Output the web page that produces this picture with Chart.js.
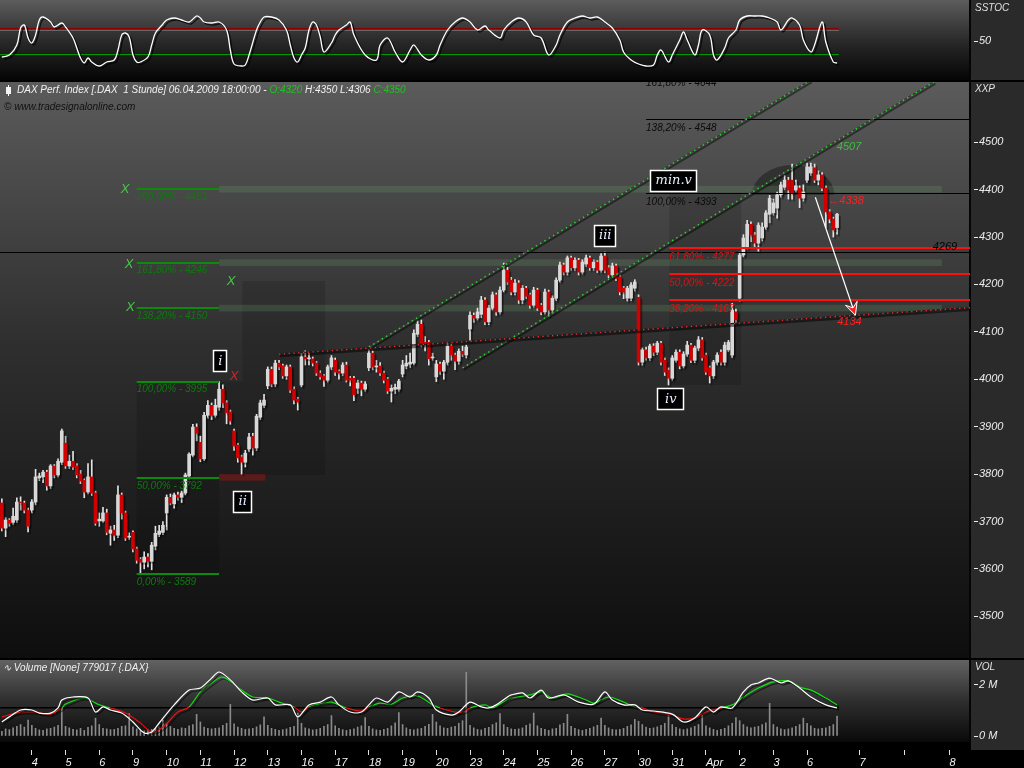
<!DOCTYPE html>
<html>
<head>
<meta charset="utf-8">
<script src="https://cdn.jsdelivr.net/npm/chart.js"></script>
<style>
html,body{margin:0;padding:0;background:#000;}
body{width:1024px;height:768px;position:relative;overflow:hidden;font-family:"Liberation Sans",Arial,sans-serif;}
canvas{position:absolute;left:0;display:block;}
.t{position:absolute;font-style:italic;font-size:10px;line-height:12px;white-space:nowrap;color:#f0f0f0;}
</style>
</head>
<body>
<canvas id="cS" width="1024" height="80" style="top:0"></canvas>
<canvas id="cM" width="1024" height="576" style="top:82px"></canvas>
<canvas id="cV" width="1024" height="108" style="top:660px"></canvas>
<div class="t" style="left:975px;top:2px;color:#e0e0e0">SSTOC</div>
<div class="t" style="left:975px;top:83px;color:#e0e0e0">XXP</div>
<div class="t" style="left:975px;top:661px;color:#e0e0e0">VOL</div>
<div style="position:absolute;left:8px;top:85px;width:1px;height:11px;background:#fff"></div>
<div style="position:absolute;left:6px;top:87px;width:5px;height:7px;background:#f4f4f4"></div>
<div class="t" style="left:17px;top:84px">DAX Perf. Index [.DAX&nbsp; 1 Stunde] 06.04.2009 18:00:00 - <span style="color:#22c022">O:4320</span> H:4350 L:4306 <span style="color:#22c022">C:4350</span></div>
<div class="t" style="left:4px;top:101px;color:#111">© www.tradesignalonline.com</div>
<div class="t" style="left:3px;top:662px">∿ Volume [None] 779017 {.DAX}</div>
<script>
// ---------- DATA (hourly bars, 3 Mar 2009 .. 6 Apr 2009) ----------
const open = [
3739,3686,3703,3698,3703,3741,3739,3724,3724,3741,
3792,3794,3804,3775,3817,3798,3825,3865,3817,3827,
3817,3800,3787,3762,3794,3760,3701,3701,3718,3675,
3682,3671,3756,3718,3667,3677,3642,3620,3614,3625,
3616,3648,3673,3677,3718,3751,3737,3756,3751,3760,
3796,3840,3899,3867,3832,3924,3945,3924,3941,3979,
3950,3931,3891,3861,3836,3825,3853,3880,3855,3920,
3945,3986,4021,3990,4034,4028,4007,4026,3979,3958,
3988,4047,4043,4043,4034,4013,4007,3998,4026,4040,
4017,4013,4030,4002,4002,3981,3992,3979,4024,4055,
4026,4028,4013,4000,3975,3979,3979,4011,4028,4032,
4034,4095,4116,4078,4078,4045,4005,4032,4017,4036,
4070,4051,4038,4059,4051,4106,4135,4129,4137,4167,
4121,4150,4178,4142,4188,4230,4209,4184,4203,4167,
4192,4178,4156,4188,4156,4142,4184,4146,4171,4209,
4241,4226,4256,4235,4251,4226,4243,4256,4235,4247,
4230,4260,4235,4220,4239,4216,4192,4171,4171,4192,
4173,4036,4062,4045,4070,4057,4076,4040,4019,4002,
4040,4057,4028,4053,4072,4040,4066,4083,4051,4024,
4007,4036,4057,4036,4062,4051,4142,4171,4262,4279,
4327,4304,4287,4298,4321,4348,4351,4361,4389,4405,
4420,4420,4399,4403,4382,4420,4435,4446,4420,4431,
4403,4353,4338,4320];
const high = [
3748,3708,3706,3728,3750,3752,3743,3728,3746,3810,
3802,3808,3808,3820,3820,3832,3895,3880,3840,3848,
3822,3808,3790,3822,3830,3764,3718,3730,3726,3690,
3692,3775,3760,3722,3676,3680,3646,3624,3636,3632,
3656,3690,3692,3700,3756,3758,3760,3762,3764,3802,
3845,3905,3906,3880,3930,3955,3950,3958,3995,3988,
3955,3935,3895,3865,3840,3850,3886,3886,3926,3956,
3968,4026,4026,4040,4040,4032,4030,4030,3984,3962,
4055,4060,4055,4047,4038,4018,4010,4030,4050,4045,
4020,4035,4036,4006,4006,3998,3996,3995,4062,4060,
4040,4035,4017,4004,3988,3990,4000,4040,4050,4055,
4104,4123,4125,4090,4082,4055,4040,4036,4040,4076,
4074,4055,4064,4070,4072,4142,4140,4150,4175,4172,
4156,4184,4182,4195,4245,4236,4215,4210,4208,4198,
4196,4182,4194,4192,4160,4190,4188,4176,4214,4247,
4245,4260,4260,4256,4255,4252,4262,4260,4252,4250,
4265,4268,4240,4245,4243,4220,4196,4196,4204,4210,
4178,4066,4068,4074,4075,4080,4080,4045,4024,4050,
4062,4062,4058,4080,4076,4070,4090,4088,4055,4028,
4040,4056,4062,4078,4082,4160,4148,4268,4305,4335,
4332,4310,4330,4330,4356,4388,4380,4395,4416,4430,
4426,4454,4420,4408,4410,4456,4456,4454,4440,4436,
4408,4358,4342,4350];
const low = [
3680,3668,3690,3694,3698,3724,3718,3678,3718,3735,
3786,3782,3766,3770,3792,3794,3820,3812,3812,3810,
3792,3780,3750,3758,3755,3692,3690,3698,3672,3650,
3660,3666,3705,3660,3662,3636,3612,3590,3600,3604,
3598,3640,3668,3672,3682,3735,3728,3745,3740,3756,
3790,3836,3870,3826,3828,3918,3915,3920,3935,3940,
3906,3905,3850,3825,3800,3815,3848,3840,3850,3915,
3940,3980,3984,3985,4020,4002,4000,3972,3948,3935,
3984,4030,4030,4028,4008,4000,3985,3994,4020,4008,
4000,4008,3994,3986,3955,3970,3965,3975,4018,4020,
4015,4008,3992,3970,3952,3970,3975,4005,4022,4025,
4030,4090,4068,4060,4030,4040,3995,4010,4000,4030,
4040,4020,4032,4048,4045,4080,4120,4125,4130,4115,
4115,4146,4135,4138,4184,4200,4178,4178,4160,4160,
4170,4150,4152,4145,4136,4138,4133,4140,4166,4205,
4220,4220,4230,4230,4220,4222,4238,4230,4230,4225,
4226,4225,4214,4215,4208,4178,4170,4165,4166,4186,
4030,4030,4040,4040,4050,4052,4030,4008,3988,3998,
4036,4022,4024,4048,4035,4035,4060,4040,4010,3992,
4002,4030,4030,4030,4058,4046,4120,4165,4258,4275,
4290,4280,4270,4292,4316,4330,4346,4340,4384,4400,
4380,4380,4395,4362,4376,4415,4430,4415,4410,4398,
4320,4330,4300,4306];
const close = [
3686,3703,3696,3711,3741,3739,3724,3690,3741,3794,
3796,3804,3775,3817,3798,3827,3891,3817,3827,3815,
3798,3785,3762,3794,3760,3696,3705,3718,3677,3682,
3671,3756,3718,3665,3669,3642,3618,3614,3625,3616,
3650,3675,3680,3692,3751,3739,3756,3751,3760,3798,
3842,3899,3886,3832,3924,3945,3924,3945,3979,3950,
3929,3912,3859,3834,3825,3844,3878,3855,3922,3950,
3956,4021,3990,4034,4026,4007,4026,3977,3956,3952,
4047,4043,4045,4034,4013,4005,3998,4026,4045,4015,
4013,4030,3998,3998,3967,3992,3979,3990,4055,4026,
4028,4013,3998,3975,3981,3983,3996,4030,4034,4036,
4097,4116,4074,4076,4043,4047,4032,4017,4036,4070,
4051,4038,4059,4053,4068,4135,4129,4142,4167,4121,
4150,4178,4142,4188,4230,4205,4184,4203,4167,4192,
4175,4156,4188,4150,4142,4184,4146,4171,4209,4241,
4226,4256,4235,4251,4226,4247,4256,4235,4247,4230,
4260,4230,4220,4239,4213,4184,4184,4192,4199,4205,
4036,4062,4045,4070,4057,4076,4036,4015,4002,4045,
4057,4028,4053,4072,4040,4066,4083,4045,4015,4007,
4036,4051,4036,4072,4078,4146,4125,4262,4298,4327,
4304,4287,4325,4321,4351,4382,4372,4389,4410,4420,
4399,4393,4408,4382,4395,4448,4448,4420,4431,4403,
4353,4338,4315,4348];
// volume in millions
const volume = [
.18,.28,.25,.32,.38,.45,.35,.62,
.42,.30,.24,.22,.28,.30,.35,.42,1.10,
.38,.32,.26,.24,.30,.22,.34,.40,.70,
.45,.30,.28,.25,.26,.30,.38,.40,.88,
.36,.28,.22,.20,.24,.26,.30,.35,.62,
.50,.38,.30,.26,.32,.30,.40,.45,.85,
.55,.35,.30,.28,.30,.32,.42,.50,1.24,
.48,.35,.30,.26,.28,.30,.36,.44,.75,
.42,.30,.26,.22,.25,.28,.34,.38,.90,
.50,.32,.28,.24,.26,.30,.38,.45,.80,
.40,.30,.25,.22,.25,.28,.35,.40,.72,
.38,.28,.24,.22,.26,.30,.40,.52,.92,
.45,.32,.26,.24,.28,.30,.38,.46,.85,
.55,.40,.32,.30,.35,.38,.50,.60,2.50,
.42,.32,.26,.24,.30,.34,.45,.52,.88,
.45,.34,.28,.26,.28,.32,.42,.48,.90,
.40,.30,.26,.22,.28,.30,.44,.50,.85,
.38,.30,.25,.22,.26,.30,.36,.42,.70,
.42,.32,.26,.24,.26,.30,.38,.44,.65,
.58,.45,.35,.30,.32,.36,.42,.50,.82,
.45,.34,.28,.25,.28,.32,.38,.45,.80,
.40,.32,.26,.22,.26,.30,.40,.50,.72,
.60,.45,.36,.32,.35,.38,.45,.52,1.28,
.45,.35,.28,.25,.28,.32,.38,.45,.70,
.50,.40,.30,.28,.30,.32,.38,.45,.78];
const stochIdx = [0,2,4,5,6,7,8,9,10,11,13,14,16,17,19,20,21,22,23,24,26,28,30,31,32,33,34,35,36,37,39,40,41,43,44,46,48,50,52,53,54,56,58,60,61,62,64,65,66,68,69,70,72,74,76,77,78,79,80,81,82,83,84,85,86,88,89,90,92,93,94,97,100,101,103,105,107,109,110,112,114,116,117,119,121,123,125,127,129,130,133,134,136,138,140,142,144,146,148,149,151,153,155,157,159,161,163,165,166,168,170,172,174,175,176,178,179,181,182,183,185,186,187,189,190,191,193,194,196,197,199,201,203,205,207,208,210,211,213,214,216,217,219,220,222,223];
const stochVal = [18,22,42,76,82,56,46,62,92,98,88,78,86,78,56,36,16,6,16,8,0,8,12,32,62,66,58,22,8,8,18,42,66,84,92,96,92,88,100,96,88,86,88,72,32,4,0,2,22,72,88,98,98,92,72,42,16,8,22,36,72,88,82,58,28,46,62,72,82,88,62,22,12,42,56,28,8,32,42,22,12,22,42,72,88,96,88,72,80,72,56,72,88,96,88,62,56,22,42,62,88,96,100,96,98,88,76,52,28,12,4,0,2,22,32,8,22,52,68,52,22,42,72,62,22,12,36,56,72,92,100,100,100,96,88,72,92,96,82,52,28,42,88,48,8,6];
const volFastIdx = [0,2,5,8,10,13,15,16,19,23,25,27,29,32,35,38,40,42,46,50,53,56,58,61,64,67,71,73,77,79,82,85,88,90,93,96,98,100,103,106,109,111,114,116,120,122,125,128,130,132,135,136,139,141,144,146,150,154,158,161,163,166,169,171,174,179,182,185,188,190,192,195,198,200,202,205,208,210,213,216,220,223];
const volFast = [0.55,0.75,1.02,1.02,0.9,0.9,1.1,1.41,1.53,1.49,0.94,1.14,1.02,0.9,0.55,0.12,0.16,0.51,1.22,1.8,1.88,2.27,2.51,2.2,1.73,1.41,1.49,1.22,1.22,0.75,1.22,1.33,1.53,1.22,0.94,0.94,1.22,1.49,1.33,1.73,1.53,1.73,1.49,1.02,0.82,0.94,1.33,1.14,1.1,1.22,1.53,1.61,1.69,1.49,1.8,1.49,1.61,1.33,1.25,1.73,1.41,1.22,1.22,1.02,0.98,0.86,0.55,0.71,1.14,0.94,1.14,1.1,1.73,2.0,2.08,2.27,2.08,2.16,1.88,1.53,1.22,1.1];
const volSlowIdx = [0,5,9,13,16,17,22,26,29,33,37,40,43,47,50,53,56,59,64,67,71,74,78,80,82,86,88,92,96,98,101,104,107,111,115,117,121,123,125,129,131,133,136,141,144,147,151,156,158,162,166,169,171,174,179,182,185,188,192,195,198,202,206,210,213,216,220,223];
const volSlow = [0.75,0.94,0.94,0.86,1.1,1.25,1.49,1.22,1.1,0.9,0.51,0.16,0.35,0.94,1.14,1.73,2.08,2.31,1.8,1.53,1.49,1.33,1.14,0.94,1.14,1.29,1.33,1.1,0.98,1.14,1.29,1.25,1.49,1.57,1.22,1.1,0.94,0.94,1.1,1.22,1.1,1.25,1.49,1.61,1.73,1.49,1.65,1.41,1.29,1.53,1.33,1.14,1.1,0.94,0.82,0.67,0.71,0.94,1.1,1.22,1.53,1.88,2.12,2.16,1.92,1.8,1.49,1.22];
const volThreshold = 1.14;
const dayTickIdx = [8,17,26,35,44,53,62,71,80,89,98,107,116,125,134,143,152,161,170,179,188,197,206,215,229,241,253];
const dayTickLbl = ['4','5','6','9','10','11','12','13','16','17','18','19','20','23','24','25','26','27','30','31','Apr','2','3','6','7','','8'];
const priceTicks = [3500,3600,3700,3800,3900,4000,4100,4200,4300,4400,4500];
const stochLevels = [75, 25];

// ---------- annotations (bar index / price) ----------
const leftFibRange = [36, 58];
const leftFibLevels = [3995, 3792, 3589];
const leftFibLabels = ['100,00% - 3995', '50,00% - 3792', '0,00% - 3589'];
const extFibLevels = [4401, 4246, 4150];
const extFibLabels = ['200,00% - 4401', '161,80% - 4246', '138,20% - 4150'];
const extBandEnd = 251;
const topFibStart = 172;
const topFibLevels = [4644, 4548, 4393];
const topFibLabels = ['161,80% - 4644', '138,20% - 4548', '100,00% - 4393'];
const redFibStart = 178.2;
const redFibLevels = [4277, 4222, 4167];
const redFibLabels = ['61,80% - 4277', '50,00% - 4222', '38,20% - 4167'];
const resistLevel = 4269;
const shadeBoxes = [[36,58,3995,3589],[64.2,86.3,4207,3798],[58,64.2,3995,3798],[178.2,197.4,4393,3988]];
const redBand = [58, 70.3, 3800, 3786];
const dome = {i:211.3, p:4389, ri:11, rp:63};
const channelUpper = [[98,4068],[216,4631]];
const channelLower = [[123,4024],[249,4628]];
const neckline = [[74,4053],[258.5,4151]];
const arrowLine = [[217.2,4384],[227.9,4135]];
const waveLabels = [{t:'i',i:58.3,p:4038,w:14},{t:'ii',i:64.3,p:3741,w:19},{t:'iii',i:161.1,p:4302,w:22},{t:'iv',i:178.6,p:3958,w:27},{t:'min.v',i:179.4,p:4419,w:47}];
const greenMarks = [[32.9,4401],[34,4243],[34.3,4152],[61.2,4207]];
const redMarks = [[62,4007]];

const N = 259;
const FONT = "'Liberation Sans', Arial, sans-serif";
const tickFont = {family: FONT, size: 11, style: 'italic'};

const shadowPlug = {
  id: 'shadowPlug',
  beforeDatasetDraw(c, a) { const ds = c.data.datasets[a.index]; if (ds.shade) { const x = c.ctx; x.save(); x.shadowColor = ds.shade; x.shadowOffsetX = 2; x.shadowOffsetY = 2; x.shadowBlur = 0; } },
  afterDatasetDraw(c, a) { const ds = c.data.datasets[a.index]; if (ds.shade) c.ctx.restore(); }
};

function paintBg(c, stops) {
  const {ctx, chartArea: a, width: W, height: H} = c;
  ctx.save();
  const g = ctx.createLinearGradient(0, 0, 0, a.bottom);
  stops.forEach(s => g.addColorStop(s[0], s[1]));
  ctx.fillStyle = g; ctx.fillRect(0, 0, a.right, a.bottom);
  ctx.fillStyle = '#2a2a2a'; ctx.fillRect(a.right, 0, W - a.right, H);
  ctx.fillStyle = '#050505'; ctx.fillRect(a.right - 1, 0, 2, H);
  ctx.restore();
}

const stochDeco = {
  id: 'stochDeco',
  beforeDraw(c) { paintBg(c, [[0,'#5c5c5c'],[0.55,'#262626'],[1,'#050505']]); },
  beforeDatasetsDraw(c) {
    const ctx = c.ctx, X = v => c.scales.x.getPixelForValue(v), Y = v => c.scales.y.getPixelForValue(v);
    const x0 = X(-0.5), x1 = X(223.5);
    ctx.save();
    ctx.fillStyle = 'rgba(150,150,150,0.5)'; ctx.fillRect(x0, Math.round(Y(stochLevels[0])) + 2, x1 - x0, 1);
    ctx.fillStyle = '#8a0000'; ctx.fillRect(x0, Math.round(Y(stochLevels[0])), x1 - x0, 1);
    ctx.fillStyle = '#009a00'; ctx.fillRect(x0, Math.round(Y(stochLevels[1])), x1 - x0, 1);
    ctx.restore();
  }
};

const volDeco = {
  id: 'volDeco',
  beforeDraw(c) {
    paintBg(c, [[0,'#626262'],[0.5,'#2e2e2e'],[1,'#0a0a0a']]);
    const {ctx, chartArea: a, width: W, height: H} = c;
    ctx.save(); ctx.fillStyle = '#000'; ctx.fillRect(0, a.bottom, a.right + 1, H - a.bottom);
    ctx.fillRect(a.right, a.bottom + 8, W - a.right, H); ctx.restore();
  },
  beforeDatasetsDraw(c) {
    const ctx = c.ctx, X = v => c.scales.x.getPixelForValue(v), Y = v => c.scales.y.getPixelForValue(v);
    ctx.save(); ctx.fillStyle = '#000';
    ctx.fillRect(X(-0.5), Math.round(Y(volThreshold)), X(223.5) - X(-0.5), 1.5);
    ctx.restore();
  }
};

const mainDeco = {
  id: 'mainDeco',
  beforeDraw(c) { paintBg(c, [[0,'#5b5b5b'],[0.45,'#2f2f2f'],[1,'#0e0e0e']]); },
  beforeDatasetsDraw(c) {
    const ctx = c.ctx, a = c.chartArea, X = v => c.scales.x.getPixelForValue(v), Y = v => c.scales.y.getPixelForValue(v);
    ctx.save(); ctx.beginPath(); ctx.rect(a.left, a.top, a.right - a.left, a.bottom - a.top); ctx.clip();
    ctx.fillStyle = 'rgba(0,0,0,0.13)';
    shadeBoxes.forEach(b => ctx.fillRect(X(b[0]), Y(b[2]), X(b[1]) - X(b[0]), Y(b[3]) - Y(b[2])));
    ctx.fillStyle = 'rgba(110,25,25,0.75)';
    ctx.fillRect(X(redBand[0]), Y(redBand[2]), X(redBand[1]) - X(redBand[0]), Y(redBand[3]) - Y(redBand[2]));
    ctx.fillStyle = 'rgba(18,18,18,0.45)';
    ctx.beginPath();
    ctx.ellipse(X(dome.i), Y(dome.p), X(dome.i + dome.ri) - X(dome.i), Y(dome.p) - Y(dome.p + dome.rp), 0, Math.PI, 2 * Math.PI);
    ctx.closePath(); ctx.fill();
    ctx.fillStyle = 'rgba(110,175,110,0.2)';
    extFibLevels.forEach(p => ctx.fillRect(X(leftFibRange[1]), Y(p + 7), X(extBandEnd) - X(leftFibRange[1]), Y(p - 7) - Y(p + 7)));
    ctx.restore();
  },
  afterDatasetsDraw(c) {
    const ctx = c.ctx, a = c.chartArea, X = v => c.scales.x.getPixelForValue(v), Y = v => c.scales.y.getPixelForValue(v);
    const hl = (x1, x2, p, col, w) => { const y = Math.round(Y(p)); ctx.fillStyle = col; ctx.fillRect(x1, y - (w > 1 ? 1 : 0), x2 - x1, w); };
    const seg = (pts, col, w, dash, dx, dy) => { ctx.save(); ctx.translate(dx || 0, dy || 0); ctx.strokeStyle = col; ctx.lineWidth = w; ctx.setLineDash(dash || []); ctx.beginPath(); ctx.moveTo(X(pts[0][0]), Y(pts[0][1])); ctx.lineTo(X(pts[1][0]), Y(pts[1][1])); ctx.stroke(); ctx.restore(); };
    ctx.save(); ctx.beginPath(); ctx.rect(a.left, a.top, a.right - a.left, a.bottom - a.top); ctx.clip();
    ctx.font = 'italic 10px ' + FONT; ctx.textBaseline = 'top'; ctx.textAlign = 'left';
    // resistance
    hl(a.left, a.right, resistLevel, '#000', 1);
    // left fib
    leftFibLevels.forEach((p, k) => { hl(X(leftFibRange[0]), X(leftFibRange[1]), p, '#0c8a0c', 2); ctx.fillStyle = '#0d7a0d'; ctx.fillText(leftFibLabels[k], X(leftFibRange[0]), Y(p) + 3); });
    extFibLevels.forEach((p, k) => { hl(X(leftFibRange[0]), X(leftFibRange[1]), p, '#0c8a0c', 2); ctx.fillStyle = '#0d7a0d'; ctx.fillText(extFibLabels[k], X(leftFibRange[0]), Y(p) + 3); });
    // top fib (black)
    topFibLevels.forEach((p, k) => { hl(X(topFibStart), a.right, p, '#000', 1); ctx.fillStyle = '#0a0a0a'; ctx.fillText(topFibLabels[k], X(topFibStart), Y(p) + 4); });
    // red fib
    redFibLevels.forEach((p, k) => { hl(X(redFibStart), a.right, p, '#ff1010', 2); ctx.fillStyle = '#e01010'; ctx.fillText(redFibLabels[k], X(redFibStart), Y(p) + 4); });
    // channels
    [channelUpper, channelLower].forEach(ch => { seg(ch, 'rgba(0,0,0,0.45)', 2, [], 1, 2); seg(ch, '#3a3a3a', 1.5); seg(ch, '#2ed12e', 1.5, [1.5, 3.5]); });
    seg(neckline, 'rgba(0,0,0,0.5)', 2.5, [], 1, 2); seg(neckline, '#1c1c1c', 1.5); seg(neckline, '#ff2a2a', 1.3, [1.3, 3.5]);
    // arrow
    const A = [X(arrowLine[0][0]), Y(arrowLine[0][1])], B = [X(arrowLine[1][0]), Y(arrowLine[1][1])];
    ctx.strokeStyle = '#fff'; ctx.lineWidth = 1.2; ctx.setLineDash([]);
    ctx.beginPath(); ctx.moveTo(A[0], A[1]); ctx.lineTo(B[0], B[1]); ctx.stroke();
    const ang = Math.atan2(B[1] - A[1], B[0] - A[0]), L = 14, sp = 0.45;
    ctx.beginPath(); ctx.moveTo(B[0], B[1]);
    ctx.lineTo(B[0] - L * Math.cos(ang - sp), B[1] - L * Math.sin(ang - sp));
    ctx.lineTo(B[0] - 0.55 * L * Math.cos(ang), B[1] - 0.55 * L * Math.sin(ang));
    ctx.lineTo(B[0] - L * Math.cos(ang + sp), B[1] - L * Math.sin(ang + sp));
    ctx.closePath(); ctx.fillStyle = '#ff1a1a'; ctx.fill(); ctx.strokeStyle = '#fff'; ctx.lineWidth = 1; ctx.stroke();
    // value labels
    ctx.font = 'italic 11px ' + FONT; ctx.textBaseline = 'middle'; ctx.textAlign = 'center';
    ctx.fillStyle = '#ff2020'; ctx.fillText('4134', X(226.3), Y(4120));
    ctx.fillStyle = '#3fbf3f'; ctx.fillText('4507', X(226.2), Y(4491));
    ctx.fillStyle = '#ff2020'; ctx.fillText('\u21904338', X(225.4), Y(4376));
    ctx.fillStyle = '#000'; ctx.fillText('4269', X(251.8), Y(4280));
    // X markers
    ctx.font = 'italic 13px ' + FONT;
    ctx.fillStyle = '#45c845'; greenMarks.forEach(m => ctx.fillText('X', X(m[0]), Y(m[1])));
    ctx.fillStyle = '#e02020'; redMarks.forEach(m => ctx.fillText('X', X(m[0]), Y(m[1])));
    // wave labels
    ctx.font = "italic 13px 'DejaVu Serif', serif";
    waveLabels.forEach(w => {
      const cx = X(w.i), cy = Y(w.p), h = 22;
      ctx.fillStyle = '#000'; ctx.fillRect(Math.round(cx - w.w / 2), Math.round(cy - h / 2), w.w, h);
      ctx.strokeStyle = '#fff'; ctx.lineWidth = 1.5; ctx.strokeRect(Math.round(cx - w.w / 2) + 0.5, Math.round(cy - h / 2) + 0.5, w.w - 1, h - 1);
      ctx.fillStyle = '#e6eeff'; ctx.fillText(w.t, cx, cy);
    });
    ctx.restore();
  }
};

const idx = open.map((_, i) => i);
const isUp = open.map((o, i) => close[i] >= o);

const baseOpts = (extra) => Object.assign({
  responsive: false, animation: false, events: [],
  layout: {padding: 0},
  plugins: {legend: {display: false}, tooltip: {enabled: false}}
}, extra);

const rightAxis = (min, max, tickVals, cb) => ({
  position: 'right', min, max,
  grid: {display: true, drawOnChartArea: false, drawTicks: true, tickLength: 8, tickColor: '#eeeeee', tickWidth: 1, tickBorderDash: [0, 4, 4, 20]},
  border: {display: false},
  afterBuildTicks(s) { s.ticks = tickVals.map(v => ({value: v})); },
  afterFit(s) { s.width = 54; s.paddingTop = 0; s.paddingBottom = 0; },
  ticks: {color: '#ececec', font: tickFont, padding: 1, callback: cb || (v => v)}
});
const hiddenX = {type: 'linear', min: -0.5, max: N - 0.5, offset: false, display: false};

// ---------- STOCHASTIC ----------
new Chart(document.getElementById('cS'), {
  type: 'line',
  data: {datasets: [{
    data: stochIdx.map((x, j) => ({x, y: stochVal[j]})),
    borderColor: '#ffffff', borderWidth: 1.3, pointRadius: 0, tension: 0.35, shade: 'rgba(0,0,0,0.75)'
  }]},
  options: baseOpts({scales: {x: hiddenX, y: rightAxis(-28, 132, [50])}}),
  plugins: [stochDeco, shadowPlug]
});

// ---------- PRICE ----------
new Chart(document.getElementById('cM'), {
  type: 'bar',
  data: {datasets: [
    {data: idx.map(i => ({x: i, y: [low[i], high[i]]})), backgroundColor: '#e2e2e2', barThickness: 1, grouped: false, order: 2, shade: 'rgba(0,0,0,0.35)'},
    {data: idx.map(i => ({x: i, y: [open[i], close[i]]})), backgroundColor: isUp.map(u => u ? '#d8d8d8' : '#d20000'), barThickness: 3, grouped: false, order: 1, shade: 'rgba(0,0,0,0.35)'}
  ]},
  options: baseOpts({scales: {x: hiddenX, y: rightAxis(3412, 4627, priceTicks)}}),
  plugins: [mainDeco, shadowPlug]
});

// ---------- VOLUME ----------
new Chart(document.getElementById('cV'), {
  type: 'bar',
  data: {datasets: [
    {type: 'line', data: volFastIdx.map((x, j) => ({x, y: volFast[j]})), borderColor: '#ffffff', borderWidth: 1.2, pointRadius: 0, tension: 0.3, order: 1, shade: 'rgba(0,0,0,0.6)'},
    {type: 'line', data: volSlowIdx.map((x, j) => ({x, y: volSlow[j]})), borderColor: '#00e000', borderWidth: 1.2, pointRadius: 0, tension: 0.3, order: 2, shade: 'rgba(0,0,0,0.5)',
      segment: {borderColor: s => ((s.p0.parsed.y + s.p1.parsed.y) / 2 >= volThreshold ? '#10e010' : '#ee1010')}},
    {data: volume.map((v, i) => ({x: i, y: v})), backgroundColor: '#8a8a8a', barThickness: 1, order: 3}
  ]},
  options: baseOpts({scales: {
    x: {type: 'linear', min: -0.5, max: N - 0.5, offset: false,
      grid: {display: true, offset: false, drawOnChartArea: false, tickLength: 13, tickColor: '#e0e0e0', tickWidth: 1, tickBorderDash: [0, 8, 5, 30]},
      border: {display: false},
      afterBuildTicks(s) { s.ticks = dayTickIdx.map(v => ({value: v})); },
      afterFit(s) { s.height = 26; s.paddingLeft = 0; s.paddingRight = 0; },
      ticks: {autoSkip: false, maxRotation: 0, align: 'start', padding: 1, color: '#f4f4f4', font: tickFont, callback: (v, i) => dayTickLbl[i]}
    },
    y: rightAxis(-0.235, 2.98, [0, 2], v => v + ' M')
  }}),
  plugins: [volDeco, shadowPlug]
});
</script>
</body>
</html>
